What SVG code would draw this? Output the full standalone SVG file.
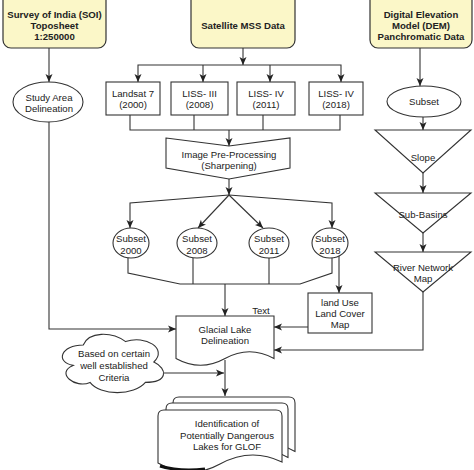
<svg xmlns="http://www.w3.org/2000/svg" width="474" height="470" viewBox="0 0 474 470">
<defs>
<marker id="arr" markerUnits="userSpaceOnUse" markerWidth="9" markerHeight="8" refX="8" refY="4" orient="auto">
<path d="M0,0.5 L8,4 L0,7.5 L2,4 Z" fill="#222"/>
</marker>
<style>
text{font-family:"Liberation Sans",Arial,sans-serif;font-size:9.6px;fill:#222;text-anchor:middle}
.b{font-weight:bold}
.top{fill:#fbf7c8;stroke:#333;stroke-width:1.2}
.n{fill:#fff;stroke:#333;stroke-width:1.1}
.c{fill:none;stroke:#333;stroke-width:1.1}
.a{fill:none;stroke:#333;stroke-width:1.1;marker-end:url(#arr)}
</style>
</defs>

<g id="connectors">
<path class="a" d="M49,48 V82"/>
<path class="a" d="M49,122 V329 H176"/>
<path class="a" d="M243,48 V65"/>
<path class="a" d="M243,65 H138 V82"/>
<path class="a" d="M243,65 H341 V82"/>
<path class="a" d="M203,65 V82"/>
<path class="a" d="M270,65 V82"/>
<path class="c" d="M130,115 V130 H340 V115"/>
<path class="c" d="M194,115 V130"/>
<path class="c" d="M263,115 V130"/>
<path class="a" d="M229,130 V146"/>
<path class="a" d="M229,179 V195"/>
<path class="a" d="M229,195 L130,203 V228"/>
<path class="a" d="M229,195 L332,203 V228"/>
<path class="a" d="M229,195 L198,228"/>
<path class="a" d="M229,195 L263,228"/>
<path class="c" d="M128,257 V273 L180,284 H300 L332,273 V258"/>
<path class="c" d="M193,258 V284"/>
<path class="c" d="M269,258 V284"/>
<path class="a" d="M225,284 V316"/>
<path class="a" d="M339,256 V293"/>
<path class="a" d="M308,327 H274"/>
<path class="a" d="M423,292 V350 H274"/>
<path class="a" d="M420,48 V86"/>
<path class="a" d="M423,117 V130"/>
<path class="a" d="M423,173 V193"/>
<path class="a" d="M423,233 V252"/>
<path class="a" d="M162,373 H224"/>
<path class="a" d="M225,360 V396"/>
</g>

<g id="soi">
<rect class="top" x="3" y="-8" width="103" height="56" rx="8"/>
<text class="b" x="54.5" y="17.5">Survey of India (SOI)</text>
<text class="b" x="54.5" y="28.5">Toposheet</text>
<text class="b" x="54.5" y="39.5">1:250000</text>
</g>

<g id="satellite">
<rect class="top" x="191" y="-8" width="104" height="56" rx="8"/>
<text class="b" x="243" y="28.5">Satellite MSS Data</text>
</g>

<g id="dem">
<rect class="top" x="370" y="-8" width="102" height="56" rx="8"/>
<text class="b" x="421" y="18">Digital Elevation</text>
<text class="b" x="421" y="29">Model (DEM)</text>
<text class="b" x="421" y="40">Panchromatic Data</text>
</g>

<g id="study-area">
<ellipse class="n" cx="48" cy="102" rx="35" ry="20"/>
<text x="49" y="100.5">Study Area</text>
<text x="49" y="111.5">Delineation</text>
</g>

<g id="landsat7">
<rect class="n" x="106" y="82" width="54" height="33"/>
<text x="133" y="96.5">Landsat 7</text>
<text x="133" y="107.5">(2000)</text>
</g>
<g id="liss3">
<rect class="n" x="171" y="82" width="57" height="33"/>
<text x="199.5" y="96.5">LISS- III</text>
<text x="199.5" y="107.5">(2008)</text>
</g>
<g id="liss4-2011">
<rect class="n" x="237" y="82" width="58" height="33"/>
<text x="266" y="96.5">LISS- IV</text>
<text x="266" y="107.5">(2011)</text>
</g>
<g id="liss4-2018">
<rect class="n" x="309" y="82" width="54" height="33"/>
<text x="336" y="96.5">LISS- IV</text>
<text x="336" y="107.5">(2018)</text>
</g>

<g id="preprocessing">
<polygon class="n" points="166,138 229,146 290,138 290,168 229,179 166,168"/>
<text x="229" y="157.5">Image Pre-Processing</text>
<text x="229" y="168.5">(Sharpening)</text>
</g>

<g id="subset2000">
<ellipse class="n" cx="131" cy="243" rx="18" ry="15"/>
<text x="131" y="241.5">Subset</text>
<text x="131" y="253.5">2000</text>
</g>
<g id="subset2008">
<ellipse class="n" cx="197" cy="243" rx="20" ry="15"/>
<text x="197" y="241.5">Subset</text>
<text x="197" y="253.5">2008</text>
</g>
<g id="subset2011">
<ellipse class="n" cx="269" cy="243" rx="20" ry="15"/>
<text x="269" y="241.5">Subset</text>
<text x="269" y="253.5">2011</text>
</g>
<g id="subset2018">
<ellipse class="n" cx="330" cy="243" rx="18" ry="15"/>
<text x="330" y="241.5">Subset</text>
<text x="330" y="253.5">2018</text>
</g>

<g id="landuse">
<rect class="n" x="308" y="293" width="64" height="40"/>
<text x="340" y="305.5">land Use</text>
<text x="340" y="316.5">Land Cover</text>
<text x="340" y="327.5">Map</text>
</g>

<g id="dem-subset">
<ellipse class="n" cx="424" cy="101.5" rx="37" ry="15.5"/>
<text x="424" y="105">Subset</text>
</g>
<g id="slope">
<polygon class="n" points="375,130 471,130 423,173"/>
<text x="423" y="161">Slope</text>
</g>
<g id="subbasins">
<polygon class="n" points="375,193 471,193 423,233"/>
<text x="423" y="218">Sub-Basins</text>
</g>
<g id="river">
<polygon class="n" points="375,252 471,252 423,292"/>
<text x="423" y="271">River Network</text>
<text x="423" y="282">Map</text>
</g>

<g id="glacial">
<path class="n" d="M176,316 H274 V358.5 Q249.5,345 225,358.5 Q200.5,372 176,358.5 Z"/>
<text x="225" y="332.5">Glacial Lake</text>
<text x="225" y="344">Delineation</text>
<text x="261" y="314">Text</text>
</g>

<g id="criteria">
<path class="n" d="M83.25,345 C60.65,345 55,362 73.08,365.4 C55,372.88 75.34,389.2 90.03,382.4 C100.2,396 134.1,396 145.4,382.4 C168,382.4 168,368.8 153.88,362 C168,348.4 145.4,334.8 125.63,341.6 C111.5,331.4 88.9,331.4 83.25,345 Z"/>
<text x="114" y="356.5">Based on certain</text>
<text x="114" y="368.5">well established</text>
<text x="114" y="380.5">Criteria</text>
</g>

<g id="identification">
<path class="n" d="M173,403 Q173,397 179,397 H289 Q295,397 295,403 V451.4 Q264.5,434.1 234,451.4 Q203.5,468.7 173,451.4 Z"/>
<path class="n" d="M166,409 Q166,403 172,403 H282 Q288,403 288,409 V457.4 Q257.5,440.1 227,457.4 Q196.5,474.7 166,457.4 Z"/>
<path class="n" d="M158,416 Q158,410 164,410 H276 Q282,410 282,416 V462 Q251,447 220,464 Q189,481 158,463 Z"/>
<path d="M160,466 Q180,472 205,469" fill="none" stroke="#111" stroke-width="3"/>
<text x="227" y="427">Identification of</text>
<text x="227" y="438.5">Potentially Dangerous</text>
<text x="227" y="450">Lakes for GLOF</text>
</g>
</svg>
